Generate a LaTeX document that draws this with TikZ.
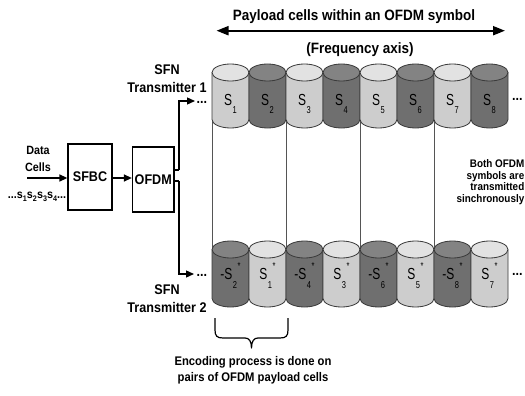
\documentclass[tikz,border=0pt]{standalone}
\usepackage{fontspec}
\setmainfont[FakeStretch=0.9]{Liberation Sans}
\newfontfamily\cylfont[FakeStretch=0.75]{Liberation Sans}
\usetikzlibrary{arrows.meta}

\definecolor{lightcell}{HTML}{CDCDCD}
\definecolor{lightcap}{HTML}{E2E2E2}
\definecolor{darkcell}{HTML}{6F6F6F}
\definecolor{darkcap}{HTML}{838383}
\definecolor{rim}{HTML}{3A3A3A}
\definecolor{guide}{HTML}{555555}

% cell label S_k (first row)
\newcommand{\cellS}[1]{S\kern0.4pt\raisebox{-9pt}{\fontsize{10}{10}\selectfont #1}}
% conjugated cell label (second row): optional sign, index, star
\newcommand{\cellC}[2]{#1S\kern0.4pt\raisebox{-8.6pt}{\fontsize{10}{10}\selectfont #2}\kern0.6pt\raisebox{10.5pt}{\fontsize{10}{10}\selectfont *}}
% input stream text
\newcommand{\sidx}[1]{s\raisebox{-3pt}{\fontsize{8}{8}\selectfont #1}}

% one upright cylinder: left x, top-cap centre y, bottom centre y, body colour, cap colour
\newcommand{\cylinder}[5]{%
  \filldraw[fill=#4, draw=rim, line width=0.8pt]
    (#1,#2) -- (#1,#3)
    .. controls (#1,#3+4.69) and (#1+8.28,#3+8.5) .. (#1+18.5,#3+8.5)
    .. controls (#1+28.72,#3+8.5) and (#1+37,#3+4.69) .. (#1+37,#3)
    -- (#1+37,#2);
  \filldraw[fill=#5, draw=rim, line width=0.8pt]
    (#1+18.5,#2) ellipse[x radius=18.5, y radius=8.5];
}

\begin{document}
\begin{tikzpicture}[x=1pt, y=-1pt,
  lbl/.style={font=\bfseries\fontsize{14}{18}\selectfont, inner sep=0pt, align=center},
  title/.style={font=\bfseries\fontsize{15}{18}\selectfont, inner sep=0pt, align=center},
  small/.style={font=\bfseries\fontsize{12}{17}\selectfont, inner sep=0pt, align=center},
  note/.style={font=\bfseries\fontsize{11}{11.6}\selectfont, inner sep=0pt, align=right},
  block/.style={draw=black, line width=1.3pt, inner sep=0pt, font=\bfseries\fontsize{14}{16}\selectfont},
  cyllab/.style={font=\cylfont\fontsize{16}{16}\selectfont, inner sep=0pt, anchor=base},
  dotsnode/.style={font=\bfseries\fontsize{14}{16}\selectfont, inner sep=0pt, text height=2pt, text depth=0pt},
  arr/.style={line width=1.3pt, -{Triangle[length=8pt,width=7pt]}},
  wire/.style={line width=1.3pt},
  axis/.style={line width=2pt, {Triangle[length=12pt,width=9pt]}-{Triangle[length=12pt,width=9pt]}},
  guideline/.style={draw=guide, line width=0.9pt}]
\useasboundingbox (0,0) rectangle (525,396);

% frequency axis
\coordinate (axL) at (216.5,30.7);
\coordinate (axR) at (505,30.7);
\draw[axis] (axL) -- (axR);
\node[title] (payload) at (354,16.7) {Payload cells within an OFDM symbol};
\node[title] (freq) at (360,50) {(Frequency axis)};

% guide lines joining the two symbols
\foreach \gx in {212,286,360,434}
  \draw[guideline] (\gx,119.5) -- (\gx,249.5);

% symbol of transmitter 1
\foreach \i/\bc/\cc in {1/lightcell/lightcap, 2/darkcell/darkcap, 3/lightcell/lightcap, 4/darkcell/darkcap,
                        5/lightcell/lightcap, 6/darkcell/darkcap, 7/lightcell/lightcap, 8/darkcell/darkcap} {
  \pgfmathsetmacro{\cx}{212+37*(\i-1)}
  \cylinder{\cx}{72.5}{119.5}{\bc}{\cc}
  \node[cyllab] (top\i) at (\cx+18.5,105) {\cellS{\i}};
}

% symbol of transmitter 2
\foreach \i/\sg/\k/\bc/\cc in {1/-/2/darkcell/darkcap, 2//1/lightcell/lightcap, 3/-/4/darkcell/darkcap, 4//3/lightcell/lightcap,
                               5/-/6/darkcell/darkcap, 6//5/lightcell/lightcap, 7/-/8/darkcell/darkcap, 8//7/lightcell/lightcap} {
  \pgfmathsetmacro{\cx}{212+37*(\i-1)}
  \cylinder{\cx}{249.5}{298.5}{\bc}{\cc}
  \node[cyllab] (bot\i) at (\cx+18.5,279.7) {\cellC{\sg}{\k}};
}

\node[dotsnode, anchor=base west] (topmore) at (512,100) {...};
\node[dotsnode, anchor=base west] (botmore) at (512,275.5) {...};

% transmitter labels
\node[lbl] (tx1) at (167,78.5) {SFN\\Transmitter 1};
\node[lbl] (tx2) at (167,298.5) {SFN\\Transmitter 2};

% processing chain
\node[small] (data) at (38,158.5) {Data\\Cells};
\node[small] (stream) at (37,196.7) {...\sidx{1}\sidx{2}\sidx{3}\sidx{4}...};
\node[block, minimum width=44pt, minimum height=66pt] (sfbc) at (90,177) {SFBC};
\node[block, minimum width=41.5pt, minimum height=65pt] (ofdm) at (153.25,179.5) {OFDM};

\coordinate (in) at (27,178);
\draw[arr] (in) -- (in -| sfbc.west);
\draw[arr] (sfbc.east |- 0,178) -- (ofdm.west |- 0,178);

\coordinate (split1) at (179,170);
\coordinate (split2) at (179,181);
\coordinate (tx1end) at (195,101);
\coordinate (tx2end) at (194,274);
\draw[wire] (ofdm.east |- split1) -- (split1);
\draw[arr] (split1) -- (split1 |- tx1end) -- (tx1end);
\draw[wire] (ofdm.east |- split2) -- (split2);
\draw[arr] (split2) -- (split2 |- tx2end) -- (tx2end);
\node[dotsnode, anchor=base west] (tx1dots) at (196.5,103) {...};
\node[dotsnode, anchor=base west] (tx2dots) at (196.5,276) {...};

% synchronous transmission note
\node[note, anchor=east] (sync) at (524.5,182) {Both OFDM\\symbols are\\transmitted\\sinchronously};

% brace over one pair of cells
\draw[line width=1.2pt, line join=round]
  (215,318) -- (215,330) .. controls (215,336) and (217,338) .. (223,338)
  -- (245,338) .. controls (249,338) and (251.5,341) .. (251.5,348)
  .. controls (251.5,341) and (254,338) .. (258,338)
  -- (280,338) .. controls (286,338) and (288,336) .. (288,330) -- (288,318);
\node[font=\bfseries\fontsize{12.5}{16.3}\selectfont, inner sep=0pt, align=center] (pairs) at (253,370)
  {Encoding process is done on\\pairs of OFDM payload cells};
\end{tikzpicture}
\end{document}
